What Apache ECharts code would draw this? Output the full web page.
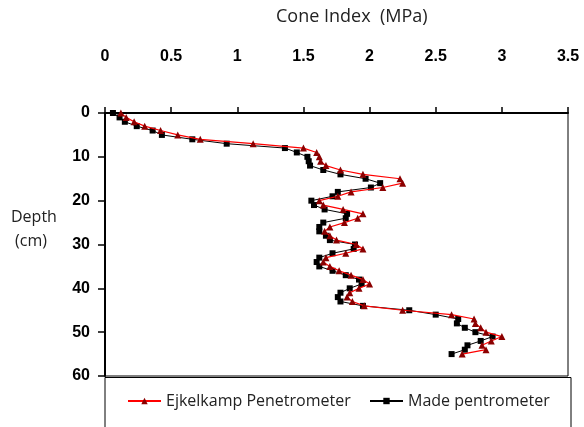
<!DOCTYPE html>
<html>
<head>
<meta charset="utf-8">
<script src="https://cdn.jsdelivr.net/npm/echarts@6/dist/echarts.min.js"></script>
<style>html,body{margin:0;padding:0;background:#fff;}#c{width:584px;height:427px;}</style>
</head>
<body>
<div id="c"></div>
<script>
// Depth (cm) of each reading
const depths = [0,1,2,3,4,5,6,7,8,9,10,11,12,13,14,15,16,17,18,19,20,21,22,23,24,25,26,27,28,29,30,31,32,33,34,35,36,37,38,39,40,41,42,43,44,45,46,47,48,49,50,51,52,53,54,55];
// Cone index (MPa) — Ejkelkamp Penetrometer
const ejkelkamp = [0.12,0.16,0.22,0.30,0.42,0.55,0.72,1.12,1.50,1.60,1.62,1.63,1.67,1.78,1.95,2.23,2.25,2.10,1.86,1.76,1.62,1.65,1.80,1.95,1.91,1.81,1.70,1.66,1.70,1.75,1.90,1.95,1.82,1.67,1.65,1.70,1.77,1.86,1.95,2.00,1.92,1.85,1.83,1.87,1.96,2.25,2.62,2.79,2.80,2.84,2.88,3.00,2.92,2.85,2.88,2.70];
// Cone index (MPa) — Made pentrometer
const made = [0.06,0.11,0.15,0.24,0.36,0.43,0.66,0.92,1.36,1.45,1.53,1.54,1.55,1.65,1.78,1.97,2.08,2.01,1.76,1.72,1.56,1.58,1.66,1.83,1.82,1.65,1.62,1.62,1.67,1.70,1.89,1.88,1.72,1.62,1.60,1.62,1.72,1.82,1.92,1.94,1.85,1.78,1.76,1.78,1.95,2.30,2.50,2.67,2.66,2.72,2.80,2.93,2.84,2.74,2.72,2.62];
const xTicks = {min:0, max:3.5, interval:0.5};
const yTicks = {min:0, max:60, interval:10};

const chart = echarts.init(document.getElementById('c'), null, {renderer:'canvas'});
const pair = (vals) => vals.map((v,i) => [v, depths[i]]);
chart.setOption({
  animation:false,
  backgroundColor:'#fff',
  grid:{left:105, right:16, top:113, bottom:51, show:true, borderColor:'#000', borderWidth:1, containLabel:false},
  xAxis:{
    type:'value', position:'top', min:xTicks.min, max:xTicks.max, interval:xTicks.interval,
    axisLine:{show:true, onZero:false, lineStyle:{color:'#000', width:2}},
    axisTick:{show:true, inside:false, length:6, lineStyle:{color:'#000', width:1.5}},
    splitLine:{show:false},
    axisLabel:{margin:48, color:'#000', fontFamily:'Liberation Sans', fontWeight:'bold', fontSize:16,
      formatter:(v)=>String(v)}
  },
  yAxis:{
    type:'value', inverse:true, min:yTicks.min, max:yTicks.max, interval:yTicks.interval,
    axisLine:{show:true, onZero:false, lineStyle:{color:'#000', width:2}},
    axisTick:{show:true, inside:false, length:7, lineStyle:{color:'#000', width:1.5}},
    splitLine:{show:false},
    axisLabel:{margin:15, color:'#000', fontFamily:'Liberation Sans', fontWeight:'bold', fontSize:16,
      padding:[0,0,10,0]}
  },
  legend:[
    {left:127, top:393, padding:0, itemWidth:33, itemHeight:8, data:['Ejkelkamp Penetrometer'],
      textStyle:{fontFamily:'Open Sans', fontSize:16, color:'#222'}},
    {left:369, top:393, padding:0, itemWidth:33, itemHeight:8, data:['Made pentrometer'],
      textStyle:{fontFamily:'Open Sans', fontSize:16, color:'#222'}}
  ],
  graphic:[
    {type:'text', left:276, top:8, style:{text:'Cone Index  (MPa)', font:'18px "Open Sans"', fill:'#222'}},
    {type:'text', left:11, top:209, style:{text:'Depth', font:'16px "Open Sans"', fill:'#222'}},
    {type:'text', left:15, top:233, style:{text:'(cm)', font:'16px "Open Sans"', fill:'#222'}},
    {type:'rect', shape:{x:105, y:377.5, width:466, height:60}, style:{fill:'none', stroke:'#000', lineWidth:1}}
  ],
  series:[
    {name:'Made pentrometer', type:'line', data:pair(made), symbol:'rect', symbolSize:6,
      lineStyle:{color:'#000', width:1}, itemStyle:{color:'#000'}, z:2},
    {name:'Ejkelkamp Penetrometer', type:'line', data:pair(ejkelkamp), symbol:'triangle', symbolSize:7,
      lineStyle:{color:'#ff0000', width:1.2}, itemStyle:{color:'#8b0000'}, z:3}
  ]
});
</script>
</body>
</html>
